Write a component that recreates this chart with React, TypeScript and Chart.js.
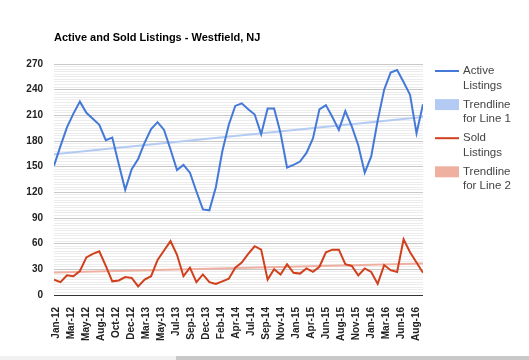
import React, { useEffect, useRef } from 'react';
import { Chart, registerables } from 'chart.js';

Chart.register(...registerables);

// ---- data ----
const MONTHS = [
  'Jan-12', 'Feb-12', 'Mar-12', 'Apr-12', 'May-12', 'Jun-12', 'Jul-12', 'Aug-12', 'Sep-12', 'Oct-12', 'Nov-12', 'Dec-12',
  'Jan-13', 'Feb-13', 'Mar-13', 'Apr-13', 'May-13', 'Jun-13', 'Jul-13', 'Aug-13', 'Sep-13', 'Oct-13', 'Nov-13', 'Dec-13',
  'Jan-14', 'Feb-14', 'Mar-14', 'Apr-14', 'May-14', 'Jun-14', 'Jul-14', 'Aug-14', 'Sep-14', 'Oct-14', 'Nov-14', 'Dec-14',
  'Jan-15', 'Feb-15', 'Mar-15', 'Apr-15', 'May-15', 'Jun-15', 'Jul-15', 'Aug-15', 'Sep-15', 'Oct-15', 'Nov-15', 'Dec-15',
  'Jan-16', 'Feb-16', 'Mar-16', 'Apr-16', 'May-16', 'Jun-16', 'Jul-16', 'Aug-16', 'Sep-16', 'Oct-16',
];

const ACTIVE_LISTINGS = [
  151, 174, 196, 212, 226, 213, 206, 199, 181, 184, 153, 123,
  147, 159, 178, 194, 202, 193, 170, 146, 152, 143, 121, 100,
  99, 126, 168, 199, 221, 224, 217, 211, 188, 218, 218, 189,
  149, 152, 156, 166, 183, 217, 222, 208, 193, 215, 197, 175,
  143, 162, 204, 240, 260, 263, 249, 234, 189, 223,
];

const SOLD_LISTINGS = [
  18, 15, 23, 22, 28, 44, 48, 51, 34, 16, 17, 21,
  20, 10, 18, 22, 41, 52, 63, 47, 22, 32, 15, 24,
  15, 13, 16, 19, 32, 38, 48, 57, 53, 18, 30, 24,
  36, 26, 25, 31, 27, 33, 50, 53, 53, 36, 34, 23,
  31, 27, 13, 35, 29, 27, 65, 50, 38, 26,
];

const TICK_LABELS = [
  'Jan-12', 'Mar-12', 'May-12', 'Aug-12', 'Oct-12', 'Dec-12', 'Mar-13', 'May-13', 'Jul-13',
  'Sep-13', 'Dec-13', 'Feb-14', 'Apr-14', 'Jul-14', 'Sep-14', 'Nov-14', 'Jan-15', 'Apr-15',
  'Jun-15', 'Aug-15', 'Nov-15', 'Jan-16', 'Mar-16', 'Jun-16', 'Aug-16',
];
// tick positions in month-index units (continuous date axis)
const TICK_START = 0.31;
const TICK_STEP = 2.317;

const Y_MAX = 270;
const Y_MAJOR = 30;
const Y_MINOR = 3;

const TITLE = 'Active and Sold Listings - Westfield, NJ';
const SERIES_NAMES = ['Active Listings', 'Sold Listings'];

// ---- style ----
const BLUE = '#4479d8';
const RED = '#d0401c';
const BLUE_TREND = '#b3cbf3';
const RED_TREND = '#efb0a2';
const FONT = "'Liberation Sans', Arial, Helvetica, sans-serif";

function toPoints(values: number[]) {
  return values.map((v, i) => ({ x: i, y: v }));
}

function trendPoints(values: number[]) {
  const n = values.length;
  let sx = 0, sy = 0, sxx = 0, sxy = 0;
  values.forEach((v, i) => { sx += i; sy += v; sxx += i * i; sxy += i * v; });
  const b = (n * sxy - sx * sy) / (n * sxx - sx * sx);
  const a = (sy - b * sx) / n;
  return [{ x: 0, y: a }, { x: n - 1, y: a + b * (n - 1) }];
}

const decorPlugin = {
  id: 'decor',
  afterDraw(chart: any) {
    const ctx = chart.ctx;
    ctx.save();
    // title
    ctx.font = `bold 11px ${FONT}`;
    ctx.fillStyle = '#000';
    ctx.textAlign = 'left';
    ctx.textBaseline = 'middle';
    ctx.fillText(TITLE, chart.chartArea.left, 38);

    // legend
    const items = [
      { kind: 'line', color: BLUE, lines: ['Active', 'Listings'] },
      { kind: 'box', color: BLUE_TREND, lines: ['Trendline', 'for Line 1'] },
      { kind: 'line', color: RED, lines: ['Sold', 'Listings'] },
      { kind: 'box', color: RED_TREND, lines: ['Trendline', 'for Line 2'] },
    ];
    const x0 = 435;
    const symW = 24;
    const textX = 463;
    let y = 71;
    ctx.font = `11.5px ${FONT}`;
    items.forEach((it) => {
      if (it.kind === 'line') {
        ctx.strokeStyle = it.color;
        ctx.lineWidth = 2;
        ctx.beginPath();
        ctx.moveTo(x0, y);
        ctx.lineTo(x0 + symW, y);
        ctx.stroke();
      } else {
        ctx.fillStyle = it.color;
        ctx.fillRect(x0, y - 5.5, symW, 11);
      }
      ctx.fillStyle = '#444';
      it.lines.forEach((t, k) => ctx.fillText(t, textX, y + k * 14.5));
      y += 33.6;
    });
    ctx.restore();
  },
};

export default function App() {
  const canvasRef = useRef<HTMLCanvasElement | null>(null);

  useEffect(() => {
    const canvas = canvasRef.current;
    if (!canvas) return;
    const chart = new Chart(canvas, {
      type: 'line',
      data: {
        datasets: [
          {
            label: SERIES_NAMES[0],
            data: toPoints(ACTIVE_LISTINGS),
            borderColor: BLUE,
            borderWidth: 2,
            pointRadius: 0,
            tension: 0,
          },
          {
            label: SERIES_NAMES[1],
            data: toPoints(SOLD_LISTINGS),
            borderColor: RED,
            borderWidth: 2,
            pointRadius: 0,
            tension: 0,
          },
          {
            label: 'Trendline for Line 1',
            data: trendPoints(ACTIVE_LISTINGS),
            borderColor: BLUE_TREND,
            borderWidth: 2,
            pointRadius: 0,
          },
          {
            label: 'Trendline for Line 2',
            data: trendPoints(SOLD_LISTINGS),
            borderColor: RED_TREND,
            borderWidth: 2,
            pointRadius: 0,
          },
        ],
      },
      options: {
        animation: false,
        responsive: false,
        maintainAspectRatio: false,
        layout: { padding: { top: 64, right: 106, left: 0, bottom: 0 } },
        plugins: {
          legend: { display: false },
          title: { display: false },
          tooltip: { enabled: false },
        },
        scales: {
          x: {
            type: 'linear',
            min: 0,
            max: MONTHS.length - 1,
            grid: { display: false, drawTicks: false },
            border: { display: false },
            afterBuildTicks: (scale: any) => {
              scale.ticks = TICK_LABELS.map((_, k) => ({ value: TICK_START + k * TICK_STEP }));
            },
            afterFit: (scale: any) => { scale.height = 61; },
            ticks: {
              autoSkip: false,
              minRotation: 90,
              maxRotation: 90,
              padding: 12,
              color: '#222',
              font: { family: FONT, size: 10, weight: 'bold' },
              callback: (_v: any, i: number) => TICK_LABELS[i],
            },
          },
          y: {
            type: 'linear',
            min: 0,
            max: Y_MAX,
            afterBuildTicks: (scale: any) => {
              const t = [];
              for (let v = 0; v <= Y_MAX; v += Y_MINOR) t.push({ value: v });
              scale.ticks = t;
            },
            afterFit: (scale: any) => { scale.width = 54; },
            border: { display: false },
            grid: {
              drawTicks: false,
              color: (c: any) => {
                const v = c.tick ? c.tick.value : 0;
                if (v === 0) return '#333';
                if (v % Y_MAJOR === 0) return '#c8c8c8';
                return '#ececec';
              },
              lineWidth: 1,
            },
            ticks: {
              autoSkip: false,
              padding: 11,
              color: '#222',
              font: { family: FONT, size: 10, weight: 'bold' },
              callback: (v: any) => (Number(v) % Y_MAJOR === 0 ? String(v) : ''),
            },
          },
        },
      },
      plugins: [decorPlugin],
    });
    return () => chart.destroy();
  }, []);

  return (
    <div style={{ position: 'absolute', left: 0, top: 0, width: 529, height: 360, background: '#fff' }}>
      <canvas ref={canvasRef} width={529} height={356} style={{ display: 'block' }} />
      <div style={{ position: 'absolute', left: 0, top: 356, width: 529, height: 4, background: '#f1f1f1' }}>
        <div style={{ position: 'absolute', left: 176, top: 0, width: 353, height: 4, background: '#c8c8c8' }} />
      </div>
    </div>
  );
}
